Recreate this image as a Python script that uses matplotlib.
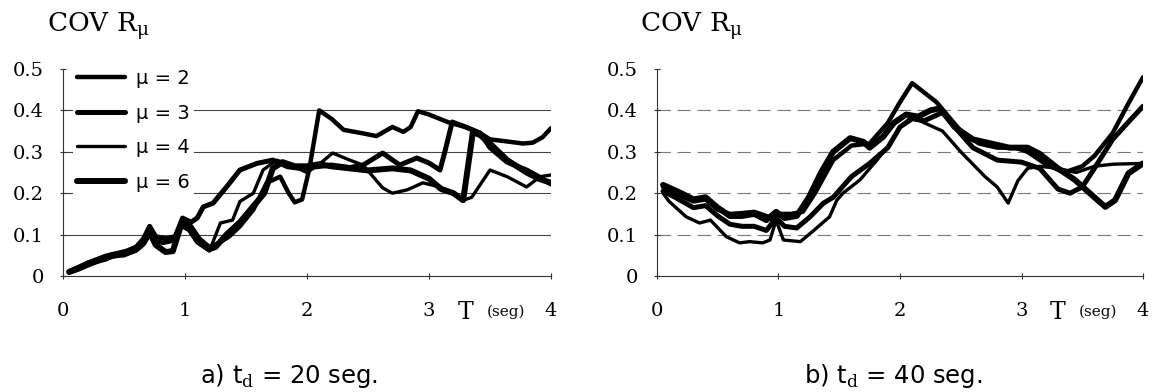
import matplotlib
matplotlib.use("Agg")
import matplotlib.pyplot as plt
from matplotlib.font_manager import FontProperties

plt.rcParams['mathtext.fontset'] = 'custom'
plt.rcParams['mathtext.rm'] = 'DejaVu Serif'

# ---------------- data ----------------
labels = ["μ = 2", "μ = 3", "μ = 4", "μ = 6"]
widths = [3.2, 3.6, 2.4, 4.3]

# panel a) td = 20 seg
a_T2 = [0.05,0.12,0.2,0.28,0.35,0.42,0.5,0.58,0.65,0.7,0.75,0.82,0.9,0.95,1.0,1.05,1.12,1.2,1.28,1.36,1.45,1.56,1.67,1.78,1.85,1.9,1.96,2.02,2.1,2.2,2.3,2.45,2.57,2.7,2.79,2.85,2.91,3.0,3.17,3.3,3.42,3.5,3.64,3.77,3.85,3.93,4.0]
a_V2 = [0.008,0.015,0.025,0.035,0.04,0.05,0.05,0.06,0.08,0.11,0.085,0.08,0.085,0.115,0.135,0.12,0.09,0.07,0.08,0.095,0.12,0.16,0.225,0.24,0.2,0.178,0.185,0.26,0.40,0.38,0.353,0.345,0.338,0.36,0.348,0.36,0.398,0.39,0.37,0.36,0.345,0.33,0.325,0.32,0.322,0.335,0.357]

a_T3 = [0.05,0.12,0.2,0.28,0.35,0.45,0.52,0.6,0.66,0.71,0.76,0.84,0.92,0.98,1.05,1.1,1.15,1.23,1.34,1.45,1.59,1.72,1.84,1.94,2.05,2.2,2.35,2.46,2.62,2.76,2.9,3.0,3.09,3.13,3.19,3.3,3.42,3.5,3.64,3.8,3.9,4.0]
a_V3 = [0.01,0.02,0.03,0.04,0.048,0.055,0.06,0.07,0.09,0.12,0.095,0.09,0.095,0.14,0.13,0.14,0.167,0.176,0.215,0.256,0.272,0.28,0.264,0.26,0.263,0.268,0.262,0.268,0.297,0.268,0.285,0.273,0.256,0.3,0.372,0.36,0.345,0.31,0.275,0.256,0.24,0.222]

a_T4 = [0.05,0.12,0.2,0.3,0.4,0.5,0.6,0.66,0.71,0.76,0.84,0.9,0.97,1.03,1.1,1.2,1.29,1.39,1.45,1.56,1.64,1.75,1.85,2.0,2.1,2.21,2.35,2.46,2.62,2.7,2.82,2.95,3.09,3.2,3.28,3.35,3.5,3.64,3.8,3.91,4.0]
a_V4 = [0.008,0.015,0.025,0.035,0.045,0.05,0.06,0.075,0.1,0.08,0.06,0.062,0.12,0.11,0.08,0.06,0.128,0.135,0.18,0.2,0.256,0.28,0.27,0.25,0.27,0.297,0.28,0.268,0.213,0.2,0.208,0.225,0.215,0.2,0.183,0.19,0.256,0.24,0.215,0.24,0.244]

a_T6 = [0.05,0.12,0.2,0.3,0.4,0.5,0.6,0.66,0.71,0.76,0.84,0.9,0.97,1.03,1.1,1.2,1.25,1.34,1.45,1.55,1.65,1.72,1.8,1.9,2.0,2.1,2.2,2.35,2.5,2.7,2.85,3.0,3.1,3.2,3.28,3.36,3.42,3.5,3.64,3.8,3.9,4.0]
a_V6 = [0.01,0.018,0.03,0.04,0.05,0.055,0.065,0.08,0.105,0.075,0.058,0.06,0.125,0.12,0.085,0.065,0.07,0.1,0.13,0.165,0.2,0.26,0.275,0.265,0.265,0.27,0.265,0.26,0.255,0.26,0.255,0.235,0.21,0.2,0.183,0.348,0.34,0.32,0.28,0.25,0.235,0.225]

# panel b) td = 40 seg
b_T2 = [0.05,0.15,0.3,0.4,0.5,0.6,0.7,0.8,0.9,0.95,1.0,1.1,1.2,1.3,1.45,1.6,1.75,1.9,2.0,2.1,2.3,2.5,2.65,2.8,2.95,3.05,3.2,3.35,3.5,3.6,3.75,3.88,4.0]
b_V2 = [0.215,0.2,0.18,0.185,0.16,0.15,0.152,0.155,0.145,0.135,0.15,0.15,0.155,0.2,0.28,0.315,0.32,0.37,0.42,0.466,0.42,0.35,0.32,0.31,0.31,0.3,0.27,0.25,0.265,0.29,0.345,0.417,0.48]

b_T3 = [0.05,0.15,0.3,0.4,0.5,0.6,0.7,0.8,0.9,0.98,1.05,1.15,1.26,1.37,1.45,1.6,1.75,1.9,2.0,2.1,2.2,2.35,2.45,2.6,2.8,3.0,3.15,3.3,3.4,3.5,3.6,3.75,3.88,4.0]
b_V3 = [0.205,0.19,0.165,0.17,0.145,0.125,0.12,0.12,0.11,0.14,0.12,0.116,0.143,0.176,0.19,0.24,0.272,0.31,0.36,0.38,0.375,0.395,0.36,0.31,0.28,0.275,0.26,0.21,0.2,0.215,0.26,0.33,0.372,0.41]

b_T4 = [0.05,0.1,0.24,0.35,0.44,0.57,0.68,0.76,0.87,0.93,0.98,1.04,1.18,1.29,1.42,1.48,1.53,1.67,1.81,1.92,2.0,2.1,2.2,2.35,2.5,2.6,2.7,2.8,2.89,2.97,3.05,3.15,3.3,3.45,3.6,3.75,4.0]
b_V4 = [0.2,0.18,0.143,0.128,0.135,0.095,0.08,0.083,0.08,0.087,0.135,0.087,0.083,0.11,0.143,0.183,0.2,0.232,0.28,0.32,0.36,0.385,0.37,0.35,0.3,0.27,0.24,0.215,0.176,0.23,0.26,0.265,0.26,0.25,0.265,0.27,0.272]

b_T6 = [0.05,0.2,0.3,0.4,0.5,0.6,0.7,0.8,0.9,0.98,1.05,1.15,1.25,1.35,1.45,1.59,1.7,1.75,1.86,1.95,2.05,2.15,2.25,2.33,2.45,2.6,2.75,2.9,3.05,3.15,3.3,3.44,3.6,3.69,3.77,3.88,4.0]
b_V6 = [0.22,0.2,0.185,0.19,0.165,0.145,0.145,0.15,0.135,0.155,0.14,0.145,0.19,0.25,0.3,0.333,0.324,0.31,0.336,0.37,0.39,0.385,0.4,0.405,0.36,0.33,0.32,0.31,0.31,0.295,0.26,0.232,0.19,0.167,0.183,0.248,0.272]

x_ticks = [0, 1, 2, 3, 4]
y_ticks = [0, 0.1, 0.2, 0.3, 0.4, 0.5]
y_ticklabels = ["0", "0.1", "0.2", "0.3", "0.4", "0.5"]
grid_levels = [0.1, 0.2, 0.3, 0.4]

panels = [
    dict(series=[(a_T2, a_V2), (a_T3, a_V3), (a_T4, a_V4), (a_T6, a_V6)],
         caption="a) t$_{\\mathrm{d}}$ = 20 seg.", grid_ls='-', grid_c="#444444"),
    dict(series=[(b_T2, b_V2), (b_T3, b_V3), (b_T4, b_V4), (b_T6, b_V6)],
         caption="b) t$_{\\mathrm{d}}$ = 40 seg.", grid_ls=(0, (12, 6)), grid_c="#777777"),
]

# ---------------- figure ----------------
W, H = 1153, 392
fig = plt.figure(figsize=(W / 100, H / 100), dpi=100)

ax_rects = [
    [63 / W, 1 - 276 / H, 488 / W, 207 / H],
    [657 / W, 1 - 276 / H, 486 / W, 207 / H],
]
title_x = [47 / W, 640 / W]
caption_x = [289 / W, 893 / W]

serif = "DejaVu Serif"

for i, p in enumerate(panels):
    ax = fig.add_axes(ax_rects[i])
    for g in grid_levels:
        ax.axhline(g, color=p['grid_c'], lw=0.8, ls=p['grid_ls'], zorder=1)
    lines = []
    for (t, v), lab, lw in zip(p['series'], labels, widths):
        ln, = ax.plot(t, v, color="black", lw=lw, label=lab,
                      solid_joinstyle='round', solid_capstyle='round', zorder=3)
        lines.append(ln)
    ax.set_xlim(0, 4)
    ax.set_ylim(0, 0.5)
    for s in ['top', 'right']:
        ax.spines[s].set_visible(False)
    for s in ['left', 'bottom']:
        ax.spines[s].set_color("#333333")
        ax.spines[s].set_linewidth(0.8)
    ax.set_xticks(x_ticks)
    ax.set_yticks(y_ticks)
    ax.set_yticklabels(y_ticklabels)
    ax.tick_params(axis='both', direction='inout', length=5, width=0.8,
                   color="#333333", labelsize=14)
    ax.tick_params(axis='y', pad=11)
    ax.tick_params(axis='x', pad=16)
    for lbl in ax.get_xticklabels() + ax.get_yticklabels():
        lbl.set_fontfamily(serif)
    # axis label pieces
    ax.text(3.3, -0.175, "T", transform=ax.get_xaxis_transform(), ha='center',
            va='center', fontsize=17, family=serif)
    ax.text(3.63, -0.175, "(seg)", transform=ax.get_xaxis_transform(), ha='center',
            va='center', fontsize=11, family=serif)
    # title
    fig.text(title_x[i], 1 - 32 / H, "COV R$_{\\mathrm{μ}}$", ha='left', va='baseline',
             fontsize=19, family=serif)
    # caption
    fig.text(caption_x[i], 1 - 376 / H, p['caption'], ha='center', va='center',
             fontsize=17.5, family="DejaVu Sans")
    if i == 0:
        leg = ax.legend(handles=lines, loc='upper left', bbox_to_anchor=(0.0, 1.065),
                        frameon=True, facecolor='white', edgecolor='none', framealpha=1,
                        fancybox=False, borderpad=0.2, handlelength=2.5,
                        handletextpad=0.55, labelspacing=0.8,
                        prop=FontProperties(family="DejaVu Sans", size=14))
        leg.set_zorder(5)

fig.savefig("out.png", dpi=100)
